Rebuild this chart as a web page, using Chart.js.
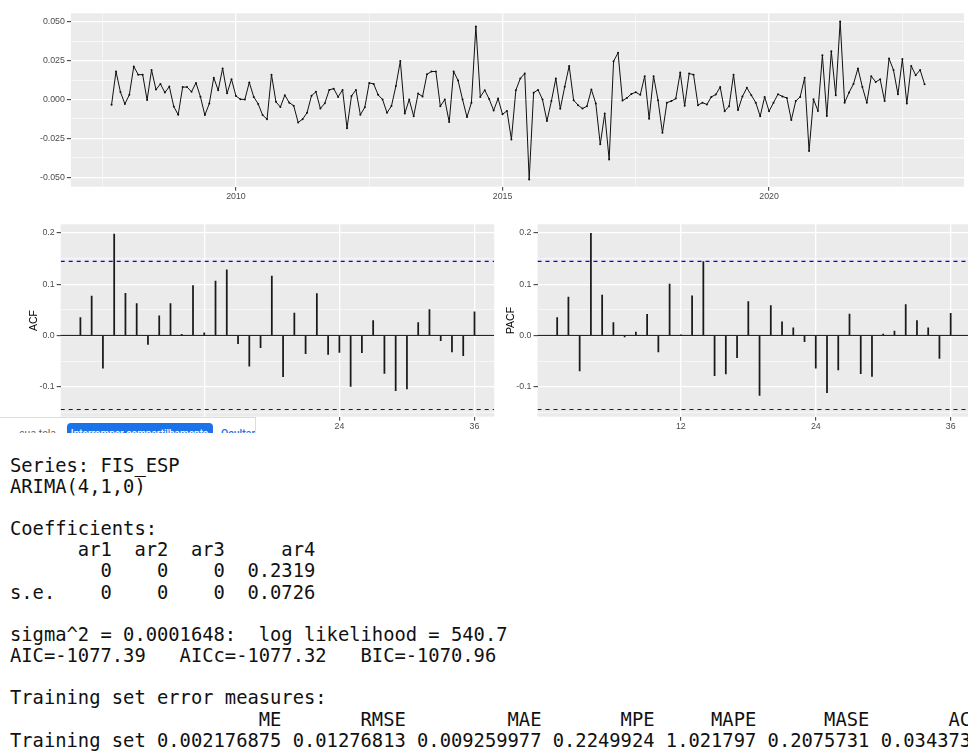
<!DOCTYPE html>
<html><head><meta charset="utf-8">
<script src="https://cdn.jsdelivr.net/npm/chart.js@4.4.1/dist/chart.umd.min.js"></script>
<style>
html,body{margin:0;padding:0;background:#fff;overflow:hidden;width:968px;height:755px;position:relative;}
canvas{position:absolute;}
#console{position:absolute;left:10px;top:454.7px;margin:0;font-family:'DejaVu Sans Mono',monospace;font-size:18.8px;line-height:21.15px;color:#111;white-space:pre;}
#share{position:absolute;left:0;top:417px;width:256px;height:16px;overflow:hidden;background:#fff;border-top:1px solid #dadce0;border-right:1px solid #dadce0;box-sizing:border-box;font-family:Roboto,'Noto Sans',sans-serif;}
#share .lbl{position:absolute;right:199px;top:5px;font-size:10.5px;color:#5f6368;white-space:nowrap;line-height:22px;}
#share .btn{position:absolute;left:66.7px;top:5px;width:146px;height:30px;background:#1a73e8;border-radius:4px;color:#fff;font-size:10px;font-weight:500;text-align:center;line-height:22px;white-space:nowrap;overflow:hidden;}
#share .hide{position:absolute;left:221px;top:5px;font-size:10.5px;color:#1a73e8;font-weight:500;line-height:22px;}
</style></head>
<body>
<canvas id="ts" width="968" height="205" style="left:0;top:0"></canvas>
<canvas id="acf" width="500" height="225" style="left:0;top:215px"></canvas>
<canvas id="pacf" width="473" height="225" style="left:495px;top:215px"></canvas>
<div id="share"><span class="lbl">sua tela</span><div class="btn">Interromper compartilhamento</div><span class="hide">Ocultar</span></div>
<pre id="console"></pre>
<script>
// ---------------- data ----------------
const seriesStart = [2007, 9]; // year, month (monthly series)
const seriesValues = [
 -0.0034, 0.018, 0.0048, -0.0028, 0.003, 0.0212, 0.016, 0.016, -0.0003, 0.019,
 0.0064, 0.010, 0.0045, 0.0083, -0.0045, -0.0098, 0.008, 0.008, 0.005, 0.0107,
 0.0018, -0.010, -0.0026, 0.014, 0.006, 0.020, 0.004, 0.013, 0.0022, 0.0002,
 0.0000, 0.011, 0.0017, -0.0028, -0.010, -0.0126, 0.016, -0.0015, -0.0048, 0.0028,
 -0.002, -0.004, -0.0147, -0.0126, -0.0085, 0.0024, 0.005, -0.0058, -0.0024, 0.0062,
 0.007, 0.0017, 0.0062, -0.0184, 0.0022, 0.0062, -0.0098, -0.005, 0.0107, 0.010,
 0.003, 0.0000, -0.0085, -0.0042, 0.0087, 0.0247, -0.009, 0.0000, -0.0107, 0.0038,
 0.002, 0.0162, 0.018, 0.018, -0.0043, 0.0000, -0.0145, 0.018, 0.0122, 0.0000,
 -0.0113, -0.002, 0.047, 0.0017, 0.006, 0.0003, -0.007, 0.0006, -0.0095, -0.0073,
 -0.0256, 0.006, 0.0135, 0.0167, -0.0513, 0.0044, 0.0062, 0.0000, -0.0138, -0.001,
 0.0135, -0.006, 0.0082, 0.0216, -0.0004, -0.0036, -0.0058, -0.0043, 0.0064, -0.0026,
 -0.0288, -0.009, -0.0385, 0.0246, 0.030, -0.0007, 0.001, 0.0036, 0.0047, 0.003,
 0.015, -0.0124, 0.015, -0.0004, -0.0214, -0.002, -0.001, 0.0006, 0.0173, -0.004,
 0.0167, 0.016, -0.0036, -0.002, -0.0032, 0.0017, 0.0032, 0.008, -0.0075, -0.0043,
 0.016, -0.0068, 0.002, 0.0075, 0.0028, -0.002, -0.0107, 0.0017, -0.0075, -0.002,
 0.0034, 0.002, 0.001, -0.0132, -0.001, 0.0017, 0.014, -0.033, 0.0002, -0.0073,
 0.0284, -0.0105, 0.031, 0.0028, 0.0502, -0.002, 0.0045, 0.010, 0.020, 0.008,
 -0.002, 0.015, 0.0113, 0.013, -0.001, 0.0263, 0.019, 0.0034, 0.026, -0.0026,
 0.0216, 0.0156, 0.019, 0.0098
];
const timeBreaks = [2010, 2015, 2020];
const timeMinorBreaks = [2007.5, 2012.5, 2017.5, 2022.5];
const levelBreaks = [-0.05, -0.025, 0, 0.025, 0.05];
const levelMinorBreaks = [-0.0375, -0.0125, 0.0125, 0.0375];

const lags = [1,2,3,4,5,6,7,8,9,10,11,12,13,14,15,16,17,18,19,20,21,22,23,24,25,26,27,28,29,30,31,32,33,34,35,36];
const acfValues = [0.035, 0.0766, -0.064, 0.1975, 0.082, 0.062, -0.0175, 0.038, 0.062, 0.002,
 0.097, 0.005, 0.106, 0.128, -0.016, -0.06, -0.024, 0.1156, -0.0805, 0.0435,
 -0.0357, 0.0818, -0.037, -0.033, -0.0994, -0.0338, 0.029, -0.074, -0.108, -0.1045,
 0.025, 0.0506, -0.0104, -0.032, -0.0396, 0.046];
const pacfValues = [0.035, 0.075, -0.0695, 0.199, 0.0786, 0.025, -0.003, 0.0065, 0.041, -0.032,
 0.100, 0.001, 0.077, 0.144, -0.0786, -0.075, -0.0435, 0.066, -0.117, 0.058,
 0.0266, 0.015, -0.0123, -0.064, -0.1117, -0.0675, 0.0416, -0.0747, -0.08, 0.0026,
 0.0084, 0.060, 0.029, 0.015, -0.045, 0.043];
const lagBreaks = [12, 24, 36];
const corrBreaks = [-0.1, 0, 0.1, 0.2];
const corrMinorBreaks = [-0.15, -0.05, 0.05, 0.15];
const ciBound = 0.1445;

// console text
const seriesName = 'FIS_ESP';
const modelLabel = 'ARIMA(4,1,0)';
const coefNames = ['ar1', 'ar2', 'ar3', 'ar4'];
const coefValues = ['0', '0', '0', '0.2319'];
const coefSE = ['0', '0', '0', '0.0726'];
const fitStats = {sigma2: '0.0001648', logLik: '540.7', aic: '-1077.39', aicc: '-1077.32', bic: '-1070.96'};
const measureNames = ['ME', 'RMSE', 'MAE', 'MPE', 'MAPE', 'MASE', 'ACF1'];
const measureValues = ['0.002176875', '0.01276813', '0.009259977', '0.2249924', '1.021797', '0.2075731', '0.03437318'];

// ---------------- helpers ----------------
const FONT = "'Liberation Sans', Arial, sans-serif";
const TICKCOL = '#4D4D4D';
const near = (a, b) => Math.abs(a - b) < 1e-9;
const isIn = (arr, v) => arr.some(m => near(m, v));
function tickSetter(major, minor) {
  return function (scale) {
    scale.ticks = major.concat(minor).sort((a, b) => a - b).map(v => ({value: v}));
  };
}
function gridOpts(major) {
  return {
    color: '#FFFFFF',
    lineWidth: c => isIn(major, c.tick.value) ? 1.3 : 0.6,
    drawTicks: true,
    tickLength: 4,
    tickWidth: 1,
    tickColor: c => isIn(major, c.tick.value) ? '#333333' : 'rgba(0,0,0,0)'
  };
}
const panelBg = {
  id: 'panelBg',
  beforeDraw(chart) {
    const {ctx, chartArea: a} = chart;
    ctx.save(); ctx.fillStyle = '#EBEBEB';
    ctx.fillRect(a.left, a.top, a.right - a.left, a.bottom - a.top);
    ctx.restore();
  }
};
Chart.defaults.font.family = FONT;

// ---------------- time series ----------------
const tsPoints = seriesValues.map((v, i) => ({x: seriesStart[0] + (seriesStart[1] - 1 + i) / 12, y: v}));
new Chart(document.getElementById('ts'), {
  type: 'line',
  data: {datasets: [{data: tsPoints, borderColor: '#111', borderWidth: 1, pointRadius: 1, pointBackgroundColor: '#111', pointBorderWidth: 0, tension: 0}]},
  options: {
    responsive: false, animation: false, devicePixelRatio: 1,
    layout: {padding: {top: 13.3, left: 0, right: 0, bottom: 0}},
    plugins: {legend: {display: false}, tooltip: {enabled: false}},
    scales: {
      x: {type: 'linear', min: 2006.904, max: 2023.656,
        afterBuildTicks: tickSetter(timeBreaks, timeMinorBreaks),
        afterFit: s => { s.height = 18.3; },
        grid: gridOpts(timeBreaks), border: {display: false},
        ticks: {autoSkip: false, maxRotation: 0, padding: 1, color: TICKCOL, font: {size: 8.8},
          callback: v => isIn(timeBreaks, v) ? String(v) : ''}
      },
      y: {min: -0.056, max: 0.0554,
        afterBuildTicks: tickSetter(levelBreaks, levelMinorBreaks),
        afterFit: s => { s.width = 70.9; },
        grid: gridOpts(levelBreaks), border: {display: false},
        ticks: {autoSkip: false, padding: 2, color: TICKCOL, font: {size: 8.8},
          callback: v => isIn(levelBreaks, v) ? v.toFixed(3) : ''}
      }
    }
  },
  plugins: [panelBg]
});

// ---------------- ACF / PACF ----------------
function corrChart(id, values, title, padLeft, axisW, xMax, padRight) {
  const bars = lags.map((l, i) => ({x: l, y: values[i]}));
  const xMin = -0.75, xLineMax = 37.75;
  return new Chart(document.getElementById(id), {
    type: 'bar',
    data: {datasets: [
      {type: 'line', data: [{x: xMin, y: 0}, {x: xLineMax, y: 0}], borderColor: '#111', borderWidth: 1, pointRadius: 0, order: 2},
      {type: 'bar', data: bars, backgroundColor: '#1a1a1a', borderWidth: 0, barThickness: 1.1, order: 1},
      {type: 'line', data: [{x: xMin, y: ciBound}, {x: xLineMax, y: ciBound}], borderColor: '#0000FF', borderWidth: 1.1, borderDash: [4, 4], pointRadius: 0, order: 0},
      {type: 'line', data: [{x: xMin, y: -ciBound}, {x: xLineMax, y: -ciBound}], borderColor: '#0000FF', borderWidth: 1.1, borderDash: [4, 4], pointRadius: 0, order: 0}
    ]},
    options: {
      responsive: false, animation: false, devicePixelRatio: 1,
      layout: {padding: {top: 9.3, left: padLeft, right: padRight, bottom: 0}},
      plugins: {legend: {display: false}, tooltip: {enabled: false}},
      scales: {
        x: {type: 'linear', min: xMin, max: xMax, offset: false,
          afterBuildTicks: tickSetter(lagBreaks, []),
          afterFit: s => { s.height = 23.3; },
          grid: Object.assign(gridOpts(lagBreaks), {offset: false}), border: {display: false},
          ticks: {autoSkip: false, maxRotation: 0, padding: 1, color: TICKCOL, font: {size: 8.8},
            callback: v => String(v)}
        },
        y: {min: -0.1586, max: 0.2168,
          afterBuildTicks: tickSetter(corrBreaks, corrMinorBreaks),
          afterFit: s => { s.width = axisW; },
          grid: gridOpts(corrBreaks), border: {display: false},
          title: {display: true, text: title, color: '#000', font: {size: 10.5}, padding: 0},
          ticks: {autoSkip: false, padding: 2, color: TICKCOL, font: {size: 8.8},
            callback: v => isIn(corrBreaks, v) ? v.toFixed(1) : ''}
        }
      }
    },
    plugins: [panelBg]
  });
}
corrChart('acf', acfValues, 'ACF', 27.7, 33.0, 37.75, 5.8);
corrChart('pacf', pacfValues, 'PACF', 9.7, 32.8, 37.54, 0);

// ---------------- console text ----------------
function matRows(rowNames, colNames, rows, gap) {
  const rnw = Math.max(...rowNames.map(s => s.length));
  const widths = colNames.map((c, j) => Math.max(c.length, ...rows.map(r => r[j].length)));
  const sep = ' '.repeat(gap);
  const head = ' '.repeat(rnw) + colNames.map((c, j) => sep + c.padStart(widths[j])).join('');
  const body = rows.map((r, i) => rowNames[i].padEnd(rnw) + r.map((v, j) => sep + v.padStart(widths[j])).join(''));
  return [head, ...body];
}
const lines = [
  'Series: ' + seriesName,
  modelLabel,
  '',
  'Coefficients:',
  ...matRows(['', 's.e.'], coefNames, [coefValues, coefSE], 2),
  '',
  'sigma^2 = ' + fitStats.sigma2 + ':  log likelihood = ' + fitStats.logLik,
  'AIC=' + fitStats.aic + '   AICc=' + fitStats.aicc + '   BIC=' + fitStats.bic,
  '',
  'Training set error measures:',
  ...matRows(['Training set'], measureNames, [measureValues], 1)
];
document.getElementById('console').textContent = lines.join('\n');
</script>
</body></html>
